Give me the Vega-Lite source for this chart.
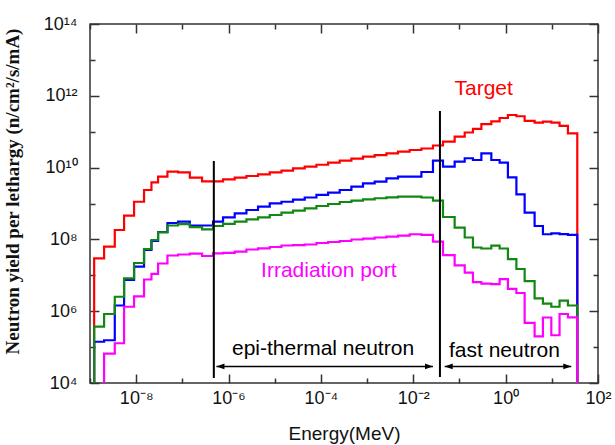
{
  "$schema": "https://vega.github.io/schema/vega-lite/v6.json",
  "width": 508,
  "height": 359,
  "autosize": "none",
  "padding": {"left": 90, "top": 24, "right": 17, "bottom": 62},
  "background": "white",
  "config": {"view": {"stroke": "#333", "strokeWidth": 1.5}, "font": "Liberation Sans"},
  "layer": [
    {
      "data": {"values": [
        {"e": 1.23e-9, "Target": 1e4, "Position 2": 1e4, "Position 3": 1e4},
        {"e": 2.02e-9, "Target": 2.97e7, "Position 2": 1.41e5, "Position 3": 3.70e5, "Irradiation port": 1e4},
        {"e": 3.44e-9, "Target": 6.26e7, "Position 2": 1.55e5, "Position 3": 8.36e5, "Irradiation port": 6.55e4},
        {"e": 5.47e-9, "Target": 1.83e8, "Position 2": 1.44e6, "Position 3": 2.53e6, "Irradiation port": 1.28e5},
        {"e": 9.0e-9, "Target": 4.57e8, "Position 2": 7.40e6, "Position 3": 8.25e6, "Irradiation port": 1.33e6},
        {"e": 1.48e-8, "Target": 1.12e9, "Position 2": 1.74e7, "Position 3": 2.20e7, "Irradiation port": 2.60e6},
        {"e": 2.14e-8, "Target": 2.38e9, "Position 2": 5.07e7, "Position 3": 5.41e7, "Irradiation port": 7.64e6},
        {"e": 2.98e-8, "Target": 3.90e9, "Position 2": 9.02e7, "Position 3": 9.62e7, "Irradiation port": 1.09e7},
        {"e": 4.75e-8, "Target": 5.58e9, "Position 2": 1.61e8, "Position 3": 1.56e8, "Irradiation port": 2.13e7},
        {"e": 8.07e-8, "Target": 7.69e9, "Position 2": 2.86e8, "Position 3": 2.44e8, "Irradiation port": 3.56e7},
        {"e": 1.45e-7, "Target": 7.40e9, "Position 2": 3.11e8, "Position 3": 2.65e8, "Irradiation port": 3.80e7},
        {"e": 2.67e-7, "Target": 5.23e9, "Position 2": 2.44e8, "Position 3": 2.19e8, "Irradiation port": 4.00e7},
        {"e": 4.62e-7, "Target": 4.15e9, "Position 2": 2.44e8, "Position 3": 1.91e8, "Irradiation port": 3.45e7},
        {"e": 7.6e-7, "Target": 4.15e9, "Position 2": 3.11e8, "Position 3": 2.36e8, "Irradiation port": 4.10e7},
        {"e": 1.36e-6, "Target": 4.72e9, "Position 2": 4.13e8, "Position 3": 2.69e8, "Irradiation port": 4.20e7},
        {"e": 2.44e-6, "Target": 5.24e9, "Position 2": 5.33e8, "Position 3": 3.11e8, "Irradiation port": 4.54e7},
        {"e": 4.35e-6, "Target": 5.84e9, "Position 2": 6.59e8, "Position 3": 3.63e8, "Irradiation port": 5.23e7},
        {"e": 7.8e-6, "Target": 6.51e9, "Position 2": 8.15e8, "Position 3": 4.13e8, "Irradiation port": 5.65e7},
        {"e": 1.40e-5, "Target": 7.40e9, "Position 2": 1.01e9, "Position 3": 4.78e8, "Irradiation port": 6.14e7},
        {"e": 2.49e-5, "Target": 8.20e9, "Position 2": 1.12e9, "Position 3": 5.55e8, "Irradiation port": 6.76e7},
        {"e": 4.46e-5, "Target": 9.57e9, "Position 2": 1.29e9, "Position 3": 6.30e8, "Irradiation port": 6.96e7},
        {"e": 8.0e-5, "Target": 1.06e10, "Position 2": 1.47e9, "Position 3": 7.35e8, "Irradiation port": 7.21e7},
        {"e": 1.43e-4, "Target": 1.20e10, "Position 2": 1.73e9, "Position 3": 8.51e8, "Irradiation port": 7.94e7},
        {"e": 2.55e-4, "Target": 1.37e10, "Position 2": 2.00e9, "Position 3": 9.68e8, "Irradiation port": 8.47e7},
        {"e": 4.57e-4, "Target": 1.56e10, "Position 2": 2.38e9, "Position 3": 1.10e9, "Irradiation port": 9.02e7},
        {"e": 8.15e-4, "Target": 1.77e10, "Position 2": 2.94e9, "Position 3": 1.20e9, "Irradiation port": 9.94e7},
        {"e": 1.46e-3, "Target": 2.01e10, "Position 2": 3.65e9, "Position 3": 1.31e9, "Irradiation port": 1.05e8},
        {"e": 2.62e-3, "Target": 2.24e10, "Position 2": 4.05e9, "Position 3": 1.40e9, "Irradiation port": 1.13e8},
        {"e": 4.67e-3, "Target": 2.50e10, "Position 2": 5.03e9, "Position 3": 1.49e9, "Irradiation port": 1.20e8},
        {"e": 8.36e-3, "Target": 2.77e10, "Position 2": 5.58e9, "Position 3": 1.55e9, "Irradiation port": 1.28e8},
        {"e": 1.50e-2, "Target": 3.09e10, "Position 2": 5.58e9, "Position 3": 1.55e9, "Irradiation port": 1.39e8},
        {"e": 2.67e-2, "Target": 3.40e10, "Position 2": 7.54e9, "Position 3": 1.47e9, "Irradiation port": 1.33e8},
        {"e": 4.40e-2, "Target": 4.13e10, "Position 2": 1.56e10, "Position 3": 1.21e9, "Irradiation port": 8.63e7},
        {"e": 7.87e-2, "Target": 5.26e10, "Position 2": 1.06e10, "Position 3": 4.21e8, "Irradiation port": 3.67e7},
        {"e": 0.130, "Target": 7.26e10, "Position 2": 1.46e10, "Position 3": 2.14e8, "Irradiation port": 1.90e7},
        {"e": 0.196, "Target": 9.50e10, "Position 2": 1.82e10, "Position 3": 1.13e8, "Irradiation port": 1.18e7},
        {"e": 0.298, "Target": 1.20e11, "Position 2": 1.63e10, "Position 3": 5.95e7, "Irradiation port": 6.43e6},
        {"e": 0.490, "Target": 1.62e11, "Position 2": 2.50e10, "Position 3": 5.58e7, "Irradiation port": 5.83e6},
        {"e": 0.741, "Target": 1.95e11, "Position 2": 1.63e10, "Position 3": 6.68e7, "Irradiation port": 5.69e6},
        {"e": 1.12, "Target": 2.41e11, "Position 2": 1.37e10, "Position 3": 5.58e7, "Irradiation port": 7.79e6},
        {"e": 1.71, "Target": 2.92e11, "Position 2": 5.37e9, "Position 3": 2.84e7, "Irradiation port": 4.21e6},
        {"e": 2.58, "Target": 2.69e11, "Position 2": 1.80e9, "Position 3": 1.50e7, "Irradiation port": 3.21e6},
        {"e": 4.24, "Target": 2.01e11, "Position 2": 5.55e8, "Position 3": 6.85e6, "Irradiation port": 4.75e5},
        {"e": 6.42, "Target": 1.80e11, "Position 2": 2.36e8, "Position 3": 2.29e6, "Irradiation port": 2.00e5},
        {"e": 9.75, "Target": 1.90e11, "Position 2": 1.39e8, "Position 3": 1.62e6, "Irradiation port": 6.68e5},
        {"e": 14.7, "Target": 1.80e11, "Position 2": 1.48e8, "Position 3": 1.33e6, "Irradiation port": 2.14e5},
        {"e": 22.3, "Target": 1.46e11, "Position 2": 1.41e8, "Position 3": 1.96e6, "Irradiation port": 8.36e5},
        {"e": 35.6, "Target": 9.02e10, "Position 2": 1.33e8, "Position 3": 1.44e6, "Irradiation port": 6.76e5},
        {"e": 35.6, "Target": 1e4, "Position 2": 1e4, "Position 3": 1e4, "Irradiation port": 1e4}
      ]},
      "transform": [
        {"fold": ["Target", "Position 2", "Position 3", "Irradiation port"], "as": ["series", "yield"]},
        {"filter": "isValid(datum.yield)"}
      ],
      "mark": {"type": "line", "interpolate": "step-before", "strokeWidth": 2.2, "clip": true},
      "encoding": {
        "x": {
          "field": "e", "type": "quantitative",
          "scale": {"type": "log", "domain": [1e-9, 100], "nice": false},
          "axis": {
            "orient": "bottom",
            "title": "Energy(MeV)",
            "values": [1e-9, 1e-8, 1e-7, 1e-6, 1e-5, 1e-4, 1e-3, 1e-2, 1e-1, 1, 10, 100],
            "labelExpr": "round(log(datum.value)/LN10) % 2 == 0 ? '10' + replace(replace(replace(replace(replace(replace(replace(replace(replace(replace(replace(toString(round(log(datum.value)/LN10)), '-', '⁻'), '0', '⁰'), '1', '¹'), '2', '²'), '3', '³'), '4', '⁴'), '5', '⁵'), '6', '⁶'), '7', '⁷'), '8', '⁸'), '9', '⁹') : ''",
            "labelFont": "Liberation Sans", "labelFontSize": 18, "labelColor": "#111",
            "labelFlush": false, "labelOverlap": false, "labelBound": false,
            "labelPadding": 15,
            "tickSize": {"condition": {"test": "round(log(datum.value)/LN10) % 2 == 0", "value": -9}, "value": -5},
            "tickColor": "#333", "tickWidth": 1.5,
            "domain": false, "grid": false,
            "titleFont": "Liberation Sans", "titleFontSize": 19, "titleFontWeight": "normal", "titleColor": "#111",
            "titleY": 56, "titleBaseline": "alphabetic"
          }
        },
        "y": {
          "field": "yield", "type": "quantitative",
          "scale": {"type": "log", "domain": [1e4, 1e14], "nice": false},
          "axis": {
            "orient": "left",
            "title": "Neutron yield per lethargy (n/cm²/s/mA)",
            "values": [1e4, 1e5, 1e6, 1e7, 1e8, 1e9, 1e10, 1e11, 1e12, 1e13, 1e14],
            "labelExpr": "round(log(datum.value)/LN10) % 2 == 0 ? '10' + replace(replace(replace(replace(replace(replace(replace(replace(replace(replace(replace(toString(round(log(datum.value)/LN10)), '-', '⁻'), '0', '⁰'), '1', '¹'), '2', '²'), '3', '³'), '4', '⁴'), '5', '⁵'), '6', '⁶'), '7', '⁷'), '8', '⁸'), '9', '⁹') : ''",
            "labelFont": "Liberation Sans", "labelFontSize": 18, "labelColor": "#111",
            "labelFlush": false, "labelOverlap": false, "labelBound": false,
            "labelPadding": 22,
            "tickSize": {"condition": {"test": "round(log(datum.value)/LN10) % 2 == 0", "value": -9}, "value": -5},
            "tickColor": "#333", "tickWidth": 1.5,
            "domain": false, "grid": false,
            "titleFont": "Liberation Serif", "titleFontSize": 19, "titleFontWeight": "bold", "titleColor": "#111",
            "titleX": -78, "titleY": 167, "titleBaseline": "middle"
          }
        },
        "color": {
          "field": "series", "type": "nominal",
          "scale": {"domain": ["Target", "Position 2", "Position 3", "Irradiation port"], "range": ["#ff0000", "#0000ff", "#118811", "#ff00ff"]},
          "legend": null
        },
        "order": {"value": null}
      }
    },
    {
      "data": {"values": [
        {"energy": 4.8e-7, "top": 1.53e10, "bottom": 1.38e4},
        {"energy": 0.0378, "top": 3.78e11, "bottom": 1.47e4}
      ]},
      "mark": {"type": "rule", "strokeWidth": 2, "color": "#000"},
      "encoding": {
        "x": {
          "field": "energy", "type": "quantitative",
          "scale": {"type": "log", "domain": [1e-9, 100], "nice": false},
          "axis": {
            "orient": "top", "title": null, "labels": false, "domain": false, "grid": false,
            "values": [1e-9, 1e-8, 1e-7, 1e-6, 1e-5, 1e-4, 1e-3, 1e-2, 1e-1, 1, 10, 100],
            "tickSize": {"condition": {"test": "round(log(datum.value)/LN10) % 2 == 0", "value": -9}, "value": -5},
            "tickColor": "#333", "tickWidth": 1.5
          }
        },
        "y": {
          "field": "top", "type": "quantitative",
          "scale": {"type": "log", "domain": [1e4, 1e14], "nice": false},
          "axis": {
            "orient": "right", "title": null, "labels": false, "domain": false, "grid": false,
            "values": [1e4, 1e5, 1e6, 1e7, 1e8, 1e9, 1e10, 1e11, 1e12, 1e13, 1e14],
            "tickSize": {"condition": {"test": "round(log(datum.value)/LN10) % 2 == 0", "value": -9}, "value": -5},
            "tickColor": "#333", "tickWidth": 1.5
          }
        },
        "y2": {"field": "bottom"}
      }
    },
    {
      "data": {"values": [
        {"from": 5.47e-7, "to": 0.0267, "level": 2.9e4},
        {"from": 0.0479, "to": 26.4, "level": 2.9e4}
      ]},
      "layer": [
        {
          "mark": {"type": "rule", "strokeWidth": 1.5, "color": "#000"},
          "encoding": {
            "x": {"field": "from", "type": "quantitative", "axis": null},
            "x2": {"field": "to"},
            "y": {"field": "level", "type": "quantitative", "axis": null}
          }
        },
        {
          "mark": {"type": "point", "shape": "M0,0L1,-0.35L1,0.35Z", "filled": true, "color": "#000", "size": 256, "opacity": 1},
          "encoding": {
            "x": {"field": "from", "type": "quantitative", "axis": null},
            "y": {"field": "level", "type": "quantitative", "axis": null}
          }
        },
        {
          "mark": {"type": "point", "shape": "M0,0L-1,-0.35L-1,0.35Z", "filled": true, "color": "#000", "size": 256, "opacity": 1},
          "encoding": {
            "x": {"field": "to", "type": "quantitative", "axis": null},
            "y": {"field": "level", "type": "quantitative", "axis": null}
          }
        }
      ]
    },
    {
      "data": {"values": [
        {"label": "epi-thermal neutron", "energy": 1.11e-4, "level": 6.03e4},
        {"label": "fast neutron", "energy": 0.942, "level": 5.4e4}
      ]},
      "mark": {"type": "text", "align": "center", "baseline": "alphabetic", "font": "Liberation Sans", "fontSize": 21, "color": "#000"},
      "encoding": {
        "x": {"field": "energy", "type": "quantitative", "axis": null},
        "y": {"field": "level", "type": "quantitative", "axis": null},
        "text": {"field": "label"}
      }
    },
    {
      "data": {"values": [{"label": "Target", "energy": 0.334, "level": 1.05e12}]},
      "mark": {"type": "text", "align": "center", "baseline": "alphabetic", "font": "Liberation Sans", "fontSize": 21, "color": "#ff0000"},
      "encoding": {
        "x": {"field": "energy", "type": "quantitative", "axis": null},
        "y": {"field": "level", "type": "quantitative", "axis": null},
        "text": {"field": "label"}
      }
    },
    {
      "data": {"values": [{"label": "Irradiation port", "energy": 1.48e-4, "level": 9.1e6}]},
      "mark": {"type": "text", "align": "center", "baseline": "alphabetic", "font": "Liberation Sans", "fontSize": 21, "color": "#ff00ff"},
      "encoding": {
        "x": {"field": "energy", "type": "quantitative", "axis": null},
        "y": {"field": "level", "type": "quantitative", "axis": null},
        "text": {"field": "label"}
      }
    }
  ],
  "resolve": {"axis": {"x": "independent", "y": "independent"}}
}
